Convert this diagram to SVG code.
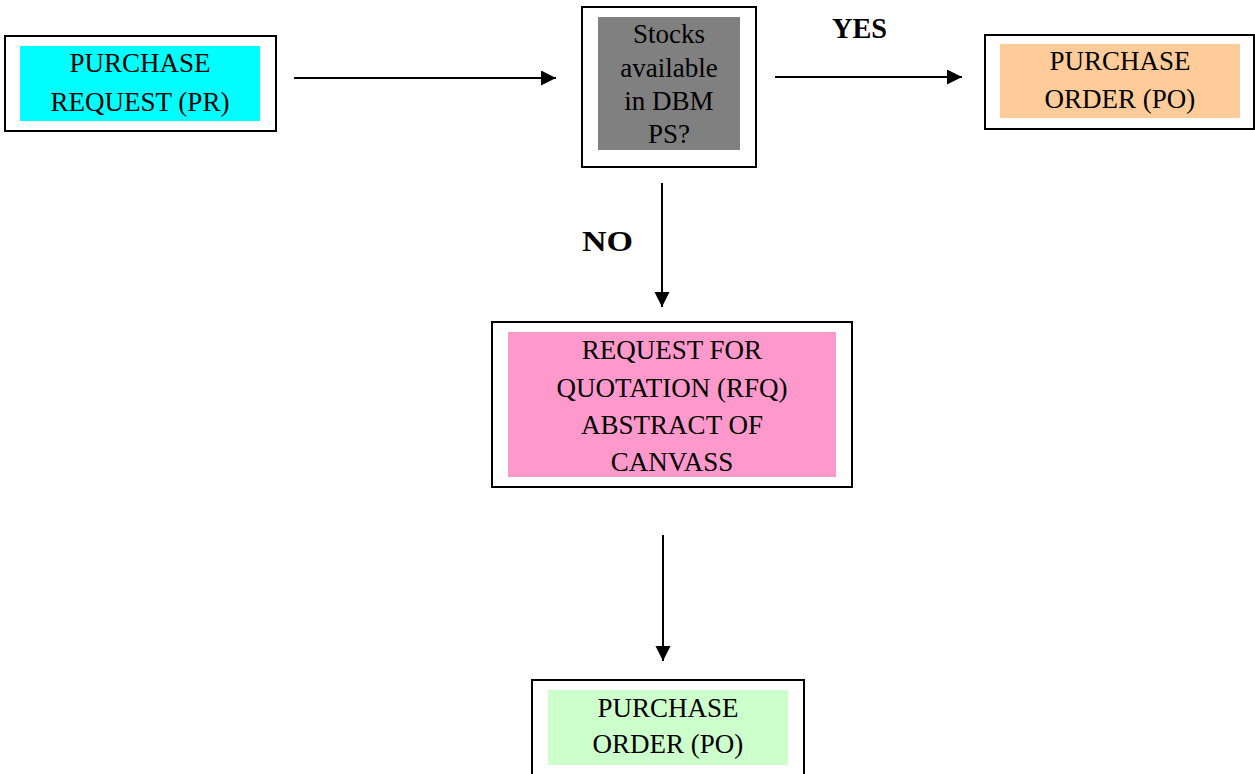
<svg xmlns="http://www.w3.org/2000/svg" width="1255" height="774" viewBox="0 0 1255 774">
<defs>
<style>
.frame{fill:#fff;stroke:#000;stroke-width:2}
.t{font-family:"Liberation Serif","Times New Roman",serif;font-size:27px;fill:#000;text-anchor:middle}
.lbl{font-family:"Liberation Serif","Times New Roman",serif;font-size:30px;font-weight:bold;fill:#000}
.conn{stroke:#000;stroke-width:2;fill:none;marker-end:url(#ah)}
</style>
<marker id="ah" markerWidth="16" markerHeight="16" refX="15" refY="7.5" orient="auto" markerUnits="userSpaceOnUse">
<path d="M0,0 L15,7.5 L0,15 Z" fill="#000"/>
</marker>
</defs>
<rect width="1255" height="774" fill="#fff"/>
<g id="pr">
<rect class="frame" x="5" y="36" width="271" height="95"/>
<rect x="20" y="46" width="240" height="75" fill="#00ffff"/>
<text class="t" x="140" y="72">PURCHASE</text>
<text class="t" x="140" y="111">REQUEST (PR)</text>
</g>
<g id="stocks">
<rect class="frame" x="582" y="7" width="174" height="160"/>
<rect x="598" y="17" width="142" height="133" fill="#808080"/>
<text class="t" x="669" y="43">Stocks</text>
<text class="t" x="669" y="77">available</text>
<text class="t" x="669" y="110">in DBM</text>
<text class="t" x="669" y="143">PS?</text>
</g>
<g id="po-top">
<rect class="frame" x="985" y="35" width="269" height="94"/>
<rect x="1000" y="44" width="240" height="74" fill="#ffcc99"/>
<text class="t" x="1120" y="70">PURCHASE</text>
<text class="t" x="1120" y="108">ORDER (PO)</text>
</g>
<g id="rfq">
<rect class="frame" x="492" y="322" width="360" height="165"/>
<rect x="508" y="332" width="328" height="145" fill="#ff99cc"/>
<text class="t" x="672" y="359">REQUEST FOR</text>
<text class="t" x="672" y="397">QUOTATION (RFQ)</text>
<text class="t" x="672" y="434">ABSTRACT OF</text>
<text class="t" x="672" y="471">CANVASS</text>
</g>
<g id="po-bottom">
<rect class="frame" x="532" y="680" width="272" height="110"/>
<rect x="548" y="690" width="240" height="75" fill="#ccffcc"/>
<text class="t" x="668" y="717">PURCHASE</text>
<text class="t" x="668" y="753">ORDER (PO)</text>
</g>
<g id="connectors">
<line class="conn" x1="294" y1="78" x2="556" y2="78"/>
<line class="conn" x1="775" y1="77" x2="962" y2="77"/>
<line class="conn" x1="662" y1="183" x2="662" y2="307"/>
<line class="conn" x1="663" y1="535" x2="663" y2="661"/>
<text class="lbl" x="832" y="38" textLength="55" lengthAdjust="spacingAndGlyphs">YES</text>
<text class="lbl" x="582" y="251" textLength="51" lengthAdjust="spacingAndGlyphs">NO</text>
</g>
</svg>
